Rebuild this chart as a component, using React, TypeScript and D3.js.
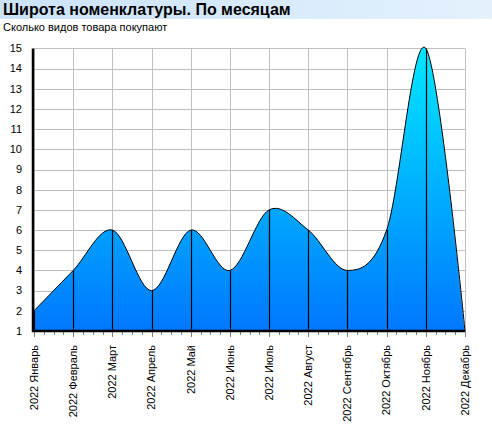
import React from "react";
import * as d3 from "d3";

const months = ["2022 Январь","2022 Февраль","2022 Март","2022 Апрель","2022 Май","2022 Июнь","2022 Июль","2022 Август","2022 Сентябрь","2022 Октябрь","2022 Ноябрь","2022 Декабрь"];
const values = [2, 4, 6, 3, 6, 4, 7, 6, 4, 6, 15, 1];
const yTicks = [1,2,3,4,5,6,7,8,9,10,11,12,13,14,15];
const title = "Широта номенклатуры. По месяцам";
const subtitle = "Сколько видов товара покупают";

const W = 492, H = 438;
const left = 34, right = 465, top = 48.4, bottom = 331;

export default function App() {
  const x = d3.scalePoint<string>().domain(months).range([left, right]);
  const y = d3.scaleLinear().domain([1, 15]).range([bottom, top]);
  const data = months.map((m, i) => ({ m, v: values[i] }));
  const curve = d3.curveCardinal.tension(0);
  const area = d3.area<{ m: string; v: number }>()
    .x(d => x(d.m)!).y0(bottom).y1(d => y(d.v)).curve(curve);
  const line = d3.line<{ m: string; v: number }>()
    .x(d => x(d.m)!).y(d => y(d.v)).curve(curve);
  const step = x.step();
  const minor: number[] = [];
  months.forEach((m, i) => {
    if (i < months.length - 1) for (let k = 1; k < 4; k++) minor.push(x(m)! + (k * step) / 4);
  });
  const font = "'Liberation Sans', Arial, sans-serif";
  return (
    <svg width={W} height={H} style={{ position: "absolute", left: 0, top: 0 }} fontFamily={font}>
      <defs>
        <linearGradient id="tb" x1="0" x2="1" y1="0" y2="0">
          <stop offset="0" stopColor="#cbe2f9" />
          <stop offset="1" stopColor="#e4f1fd" />
        </linearGradient>
        <linearGradient id="fill" gradientUnits="userSpaceOnUse" x1="0" x2="0" y1={top} y2={bottom}>
          <stop offset="0" stopColor="#00e8ff" />
          <stop offset="1" stopColor="#0078ff" />
        </linearGradient>
      </defs>
      <rect x={0} y={0} width={W} height={H} fill="#fff" />
      <rect x={0} y={0} width={W} height={19} fill="url(#tb)" />
      <text x={3} y={15} fontSize={16} fontWeight="bold" fill="#000">{title}</text>
      <text x={3} y={31} fontSize={11} fill="#000">{subtitle}</text>
      {yTicks.map(t => (
        <g key={t}>
          {t > 1 && <line x1={left} x2={right} y1={Math.round(y(t)) + 0.5} y2={Math.round(y(t)) + 0.5} stroke="#c0c0c0" />}
          <text x={22} y={y(t)} dy="0.35em" textAnchor="end" fontSize={11} fill="#000">{t}</text>
        </g>
      ))}
      {months.map(m => (
        <line key={m} x1={Math.round(x(m)!) + 0.5} x2={Math.round(x(m)!) + 0.5} y1={top} y2={bottom} stroke="#c0c0c0" />
      ))}
      <path d={area(data)!} fill="url(#fill)" />
      {data.map(d => (
        <line key={d.m} x1={Math.round(x(d.m)!) + 0.5} x2={Math.round(x(d.m)!) + 0.5} y1={y(d.v)} y2={bottom} stroke="#000" strokeWidth={1.2} />
      ))}
      <path d={line(data)!} fill="none" stroke="#000" strokeWidth={1} />
      {minor.map((mx, i) => (
        <line key={i} x1={Math.round(mx) + 0.5} x2={Math.round(mx) + 0.5} y1={bottom} y2={bottom + 4} stroke="#808080" />
      ))}
      {months.map(m => (
        <line key={m} x1={Math.round(x(m)!) + 0.5} x2={Math.round(x(m)!) + 0.5} y1={bottom} y2={bottom + 6} stroke="#808080" />
      ))}
      <line x1={left - 1} x2={left - 1} y1={top} y2={bottom + 1} stroke="#000" strokeWidth={2.5} />
      <line x1={left - 2} x2={right} y1={bottom} y2={bottom} stroke="#000" strokeWidth={2.5} />
      {months.map(m => (
        <text key={m} transform={`translate(${x(m)},345) rotate(-90)`} dy="0.35em" textAnchor="end" fontSize={11} fill="#000">{m}</text>
      ))}
    </svg>
  );
}
